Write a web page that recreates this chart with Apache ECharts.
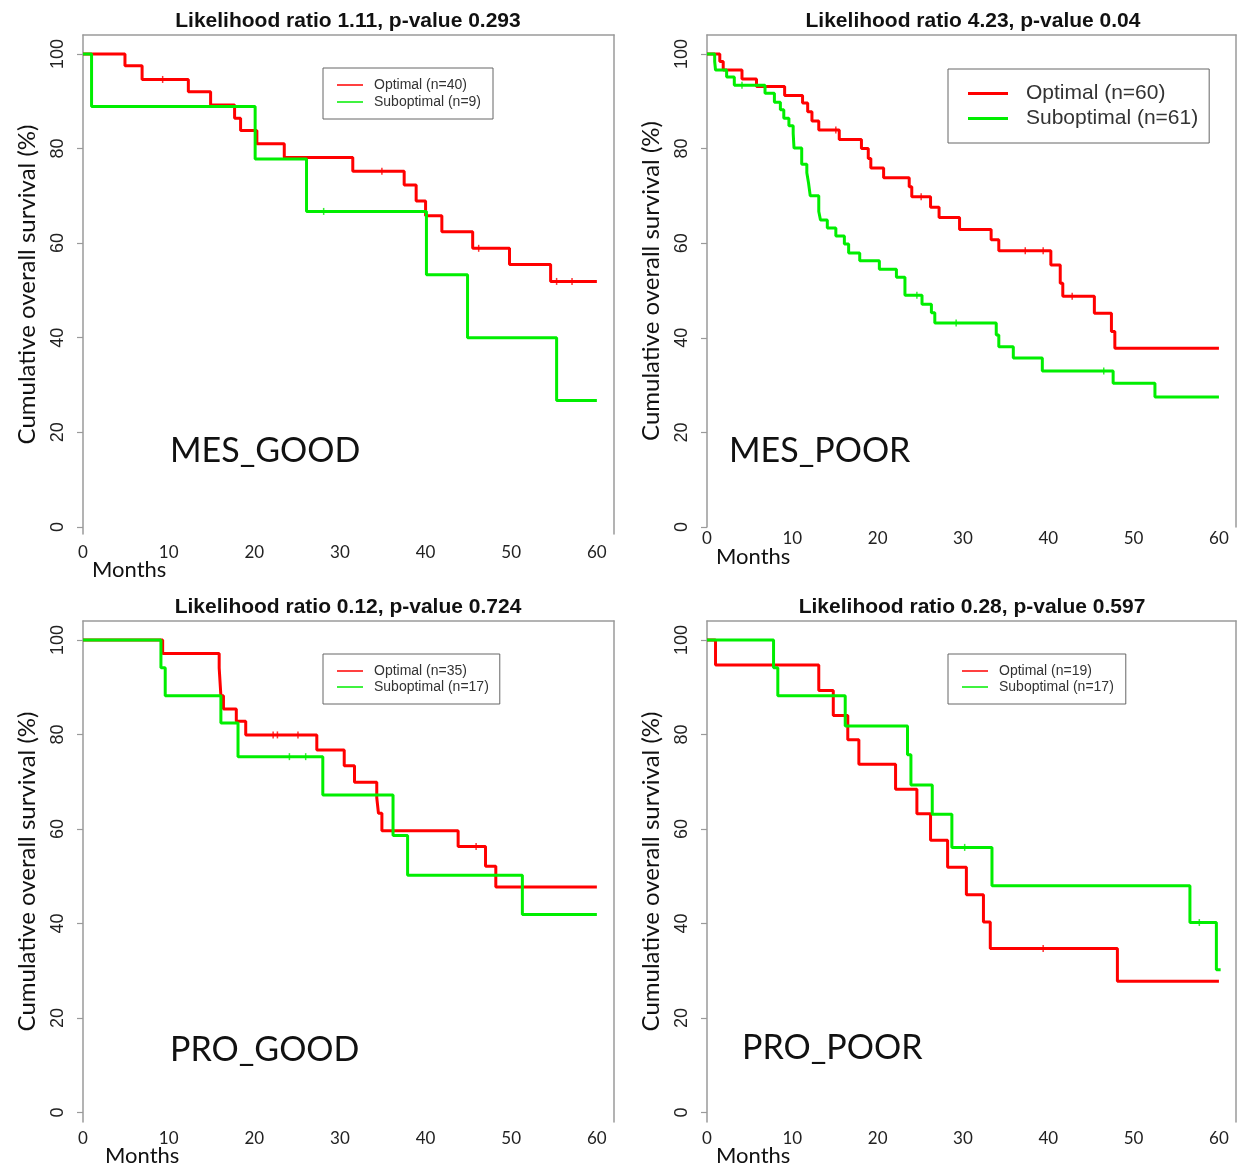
<!DOCTYPE html>
<html><head><meta charset="utf-8">
<script src="https://cdn.jsdelivr.net/npm/echarts@6/dist/echarts.min.js"></script>
<style>html,body{margin:0;padding:0;background:#fff}#c{width:1238px;height:1167px}</style>
</head><body><div id="c"></div>
<script>
// ---------- data ----------
const xTicks = [0, 10, 20, 30, 40, 50, 60];
const yTicks = [0, 20, 40, 60, 80, 100];
const panelTitles = ['Likelihood ratio 1.11, p-value 0.293', 'Likelihood ratio 4.23, p-value 0.04',
  'Likelihood ratio 0.12, p-value 0.724', 'Likelihood ratio 0.28, p-value 0.597'];
const panelLabels = ['MES_GOOD', 'MES_POOR', 'PRO_GOOD', 'PRO_POOR'];
const optNames = ['Optimal (n=40)', 'Optimal (n=60)', 'Optimal (n=35)', 'Optimal (n=19)'];
const subNames = ['Suboptimal (n=9)', 'Suboptimal (n=61)', 'Suboptimal (n=17)', 'Suboptimal (n=17)'];
const xName = 'Months';
const yName = 'Cumulative overall survival (%)';

// MES_GOOD
const mesGoodOptT = [0, 4.9, 6.9, 12.3, 14.9, 17.7, 18.4, 20.3, 23.5, 31.5, 37.5, 38.9, 40.0, 41.9, 45.5, 49.8, 54.6, 60];
const mesGoodOptS = [100, 97.5, 94.6, 92.0, 89.2, 86.4, 83.8, 81.0, 78.1, 75.2, 72.3, 68.9, 65.8, 62.4, 58.9, 55.5, 51.9, 51.9];
const mesGoodOptCens = [9.3, 34.9, 46.2, 55.3, 57.1];
const mesGoodSubT = [0, 1.0, 20.1, 26.1, 40.1, 44.9, 55.3, 60];
const mesGoodSubS = [100, 88.9, 77.8, 66.7, 53.3, 40.0, 26.7, 26.7];
const mesGoodSubCens = [28.1];

// MES_POOR
const mesPoorOptT = [0, 1.5, 1.9, 4.1, 5.8, 9.1, 11.2, 11.8, 12.3, 13.1, 15.5, 18.1, 18.9, 19.2, 20.7, 23.7, 24.0, 26.2, 27.2, 29.6, 33.3, 34.2, 40.3, 41.4, 41.7, 45.4, 47.4, 47.8, 60];
const mesPoorOptS = [100, 98.4, 96.6, 94.7, 93.1, 91.2, 89.6, 87.8, 85.8, 83.9, 81.9, 80.0, 77.9, 75.9, 73.8, 71.9, 69.8, 67.6, 65.4, 62.9, 60.7, 58.4, 55.4, 51.5, 48.8, 45.2, 41.3, 37.8, 37.8];
const mesPoorOptCens = [15.1, 25.1, 37.3, 39.4, 42.8];
const mesPoorSubT = [0, 0.9, 1.0, 2.3, 3.2, 6.8, 7.9, 8.6, 9.0, 9.6, 10.1, 10.2, 11.1, 11.7, 11.9, 12.1, 13.1, 13.3, 14.1, 15.1, 16.1, 16.6, 17.9, 20.2, 22.2, 23.2, 25.2, 26.3, 26.7, 33.9, 34.2, 35.9, 39.3, 47.6, 52.5, 60];
const mesPoorSubS = [100, 98.4, 96.6, 95.1, 93.4, 91.7, 89.8, 88.2, 86.4, 84.8, 83.2, 80.1, 76.7, 74.9, 72.7, 70.0, 66.7, 64.9, 63.2, 61.5, 59.8, 57.9, 56.3, 54.5, 52.8, 49.0, 47.1, 45.3, 43.1, 40.6, 38.1, 35.7, 33.0, 30.4, 27.5, 27.5];
const mesPoorSubCens = [4.1, 24.6, 29.2, 46.5];

// PRO_GOOD
const proGoodOptT = [0, 9.3, 15.9, 16.1, 16.4, 17.9, 19.0, 27.3, 30.5, 31.7, 34.3, 34.5, 34.9, 43.8, 47.0, 48.2, 60];
const proGoodOptS = [100, 97.1, 94.1, 88.2, 85.4, 82.8, 79.9, 76.7, 73.4, 69.9, 66.6, 63.3, 59.6, 56.3, 52.1, 47.7, 47.7];
const proGoodOptCens = [22.2, 22.7, 25.1, 45.9];
const proGoodSubT = [0, 9.1, 9.6, 16.1, 18.1, 28.0, 36.2, 37.9, 51.3, 60];
const proGoodSubS = [100, 94.1, 88.2, 82.4, 75.3, 67.2, 58.6, 50.2, 41.9, 41.9];
const proGoodSubCens = [24.1, 26.0];

// PRO_POOR
const proPoorOptT = [0, 1.0, 13.1, 14.8, 16.5, 17.8, 22.1, 24.6, 26.2, 28.2, 30.4, 32.4, 33.2, 48.1, 60];
const proPoorOptS = [100, 94.7, 89.3, 84.0, 78.9, 73.7, 68.4, 63.2, 57.6, 51.9, 46.1, 40.3, 34.7, 27.8, 27.8];
const proPoorOptCens = [39.4];
const proPoorSubT = [0, 7.8, 8.3, 16.2, 23.5, 23.9, 26.4, 28.7, 33.4, 56.6, 59.7, 60.2];
const proPoorSubS = [100, 94.1, 88.2, 81.8, 75.7, 69.3, 63.1, 56.1, 48.0, 40.2, 30.2, 30.2];
const proPoorSubCens = [30.2, 57.7];

const curves = [
  {optT: mesGoodOptT, optS: mesGoodOptS, optC: mesGoodOptCens, subT: mesGoodSubT, subS: mesGoodSubS, subC: mesGoodSubCens},
  {optT: mesPoorOptT, optS: mesPoorOptS, optC: mesPoorOptCens, subT: mesPoorSubT, subS: mesPoorSubS, subC: mesPoorSubCens},
  {optT: proGoodOptT, optS: proGoodOptS, optC: proGoodOptCens, subT: proGoodSubT, subS: proGoodSubS, subC: proGoodSubCens},
  {optT: proPoorOptT, optS: proPoorOptS, optC: proPoorOptCens, subT: proPoorSubT, subS: proPoorSubS, subC: proPoorSubCens}
];

// ---------- layout / style ----------
const RED = '#ff0000', GREEN = '#00ee00', BORDER = '#9a9a9a';
const layout = [
  {grid: {left: 83, top: 35, width: 531, height: 499}, yMin: -1.5, xMargin: 10,
   mX: 92, mY: 559, titleX: 348, titleY: 11, labX: 170, labY: 434,
   leg: {left: 323, top: 68, fs: 14, lh: 16, gap: 1, iw: 26, lw: 1.5, pad: [9, 12, 9, 14], tp: 6}},
  {grid: {left: 707, top: 35, width: 529, height: 492}, yMin: 0, xMargin: 3,
   mX: 716, mY: 546, titleX: 973, titleY: 11, labX: 729, labY: 434,
   leg: {left: 948, top: 69, fs: 21, lh: 23, gap: 2, iw: 40, lw: 3, pad: [13, 11, 13, 20], tp: 13}},
  {grid: {left: 83, top: 621, width: 531, height: 501}, yMin: -2, xMargin: 8,
   mX: 105, mY: 1145, titleX: 348, titleY: 597, labX: 170, labY: 1033,
   leg: {left: 323, top: 654, fs: 14, lh: 16, gap: 0, iw: 26, lw: 1.5, pad: [9, 11, 9, 14], tp: 6}},
  {grid: {left: 707, top: 621, width: 529, height: 501}, yMin: -2, xMargin: 8,
   mX: 716, mY: 1145, titleX: 972, titleY: 597, labX: 742, labY: 1031,
   leg: {left: 948, top: 654, fs: 14, lh: 16, gap: 0, iw: 26, lw: 1.5, pad: [9, 12, 9, 14], tp: 6}}
];

function survAt(T, S, t) { let v = S[0]; for (let i = 0; i < T.length; i++) { if (T[i] <= t) v = S[i]; } return v; }
function pairs(T, S) { return T.map((t, i) => [t, S[i]]); }

const grids = [], xAxes = [], yAxes = [], series = [], titles = [], legends = [];
const labelFont = 'Liberation Sans Narrow, Liberation Sans, Arial, sans-serif';

layout.forEach((L, i) => {
  const c = curves[i];
  grids.push(Object.assign({show: false}, L.grid));
  xAxes.push({
    type: 'value', gridIndex: i, position: 'bottom', min: 0, max: 62,
    axisLine: {show: false}, axisTick: {show: false}, splitLine: {show: false},
    axisLabel: {customValues: xTicks, margin: L.xMargin, fontFamily: 'Lato', fontSize: 17, color: '#222'}
  });
  xAxes.push({
    type: 'value', gridIndex: i, position: 'top', min: 0, max: 1,
    axisLine: {show: true, onZero: false, lineStyle: {color: BORDER, width: 1.5}},
    axisTick: {show: false}, axisLabel: {show: false}, splitLine: {show: false}
  });
  yAxes.push({
    type: 'value', gridIndex: i, position: 'left', min: L.yMin, max: 104,
    axisLine: {show: true, onZero: false, lineStyle: {color: BORDER, width: 1.5}},
    axisTick: {show: true, length: 6, customValues: yTicks, lineStyle: {color: BORDER, width: 1.2}},
    axisLabel: {customValues: yTicks, rotate: 90, margin: 16, fontFamily: labelFont, fontSize: 18, color: '#222'},
    splitLine: {show: false},
    name: yName, nameLocation: 'middle', nameGap: 44,
    nameTextStyle: {fontFamily: 'Lato', fontSize: 24, color: '#111'}
  });
  yAxes.push({
    type: 'value', gridIndex: i, position: 'right', min: 0, max: 1,
    axisLine: {show: true, onZero: false, lineStyle: {color: BORDER, width: 1.5}},
    axisTick: {show: false}, axisLabel: {show: false}, splitLine: {show: false}
  });
  const xi = 2 * i, yi = 2 * i;
  series.push({
    type: 'line', name: optNames[i], xAxisIndex: xi, yAxisIndex: yi, step: 'end',
    data: pairs(c.optT, c.optS), symbol: 'none', color: RED, lineStyle: {color: RED, width: 3}, z: 3
  });
  series.push({
    type: 'line', name: subNames[i], xAxisIndex: xi, yAxisIndex: yi, step: 'end',
    data: pairs(c.subT, c.subS), symbol: 'none', color: GREEN, lineStyle: {color: GREEN, width: 3}, z: 4
  });
  series.push({
    type: 'scatter', name: 'cens-opt-' + i, xAxisIndex: xi, yAxisIndex: yi,
    data: c.optC.map(t => [t, survAt(c.optT, c.optS, t)]), symbol: 'rect', symbolSize: [1.5, 7],
    itemStyle: {color: RED}, z: 5, silent: true
  });
  series.push({
    type: 'scatter', name: 'cens-sub-' + i, xAxisIndex: xi, yAxisIndex: yi,
    data: c.subC.map(t => [t, survAt(c.subT, c.subS, t)]), symbol: 'rect', symbolSize: [1.5, 7],
    itemStyle: {color: GREEN}, z: 5, silent: true
  });
  titles.push({
    text: panelTitles[i], left: L.titleX, top: L.titleY, textAlign: 'center', padding: 0,
    textStyle: {fontFamily: 'Liberation Sans, Arial, sans-serif', fontWeight: 'bold', fontSize: 21, color: '#111'}
  });
  titles.push({
    text: panelLabels[i], left: L.labX, top: L.labY, padding: 0,
    textStyle: {fontFamily: 'Lato', fontWeight: 'normal', fontSize: 34, color: '#111'}
  });
  titles.push({
    text: xName, left: L.mX, top: L.mY, padding: 0,
    textStyle: {fontFamily: 'Lato', fontWeight: 'normal', fontSize: 22, color: '#111'}
  });
  const g = L.leg;
  legends.push({
    data: [optNames[i], subNames[i]], orient: 'vertical', left: g.left, top: g.top,
    padding: g.pad, itemGap: g.gap, itemWidth: g.iw, itemHeight: g.lw, icon: 'rect',
    borderColor: '#666', borderWidth: 1, borderRadius: 0, backgroundColor: '#fff',
    selectedMode: false,
    textStyle: {fontFamily: 'Liberation Sans, Arial, sans-serif', fontSize: g.fs, lineHeight: g.lh, color: '#333', padding: [0, 0, 0, g.tp]}
  });
});

const chart = echarts.init(document.getElementById('c'), null, {renderer: 'canvas'});
chart.setOption({
  animation: false,
  backgroundColor: '#fff',
  title: titles,
  legend: legends,
  grid: grids,
  xAxis: xAxes,
  yAxis: yAxes,
  series: series
});
</script>
</body></html>
